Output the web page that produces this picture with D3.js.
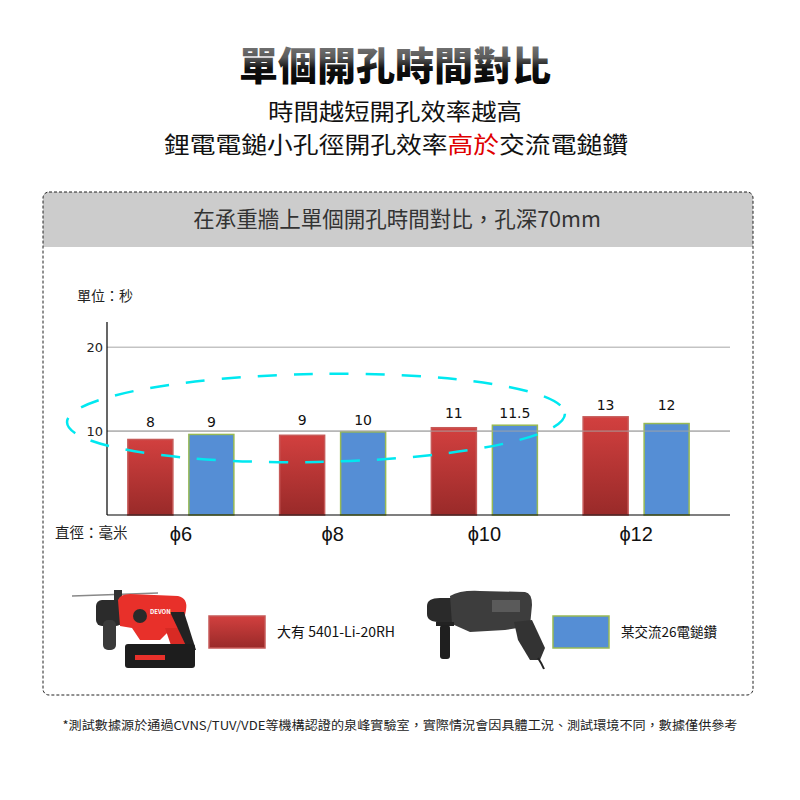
<!DOCTYPE html>
<html>
<head>
<meta charset="utf-8">
<script src="https://cdn.jsdelivr.net/npm/d3@7"></script>
<style>
  body { margin: 0; background: #fff; }
  svg { display: block; font-family: "Noto Sans CJK TC", "Noto Sans", sans-serif; }
</style>
</head>
<body>
<div id="chart"></div>
<script>
// data
const sizes = ["ϕ6", "ϕ8", "ϕ10", "ϕ12"];
const seriesNames = ["大有 5401-Li-20RH", "某交流26電鎚鑽"];
const cordlessValues = [9.0, 9.5, 10.4, 11.7];   // bar heights as drawn
const cordedValues = [9.6, 9.9, 10.7, 10.9];
const cordlessLabels = ["8", "9", "11", "13"];    // printed labels
const cordedLabels = ["9", "10", "11.5", "12"];
const yTicks = [10, 20];

const W = 800, H = 800;
const svg = d3.select("#chart").append("svg").attr("width", W).attr("height", H);
const defs = svg.append("defs");

// gradients
const tg = defs.append("linearGradient").attr("id", "titleGrad")
  .attr("x1", 0).attr("y1", 0).attr("x2", 0).attr("y2", 1);
tg.append("stop").attr("offset", "0%").attr("stop-color", "#8c8c8c");
tg.append("stop").attr("offset", "40%").attr("stop-color", "#5a5a5a");
tg.append("stop").attr("offset", "60%").attr("stop-color", "#111");
tg.append("stop").attr("offset", "100%").attr("stop-color", "#000");

const rg = defs.append("linearGradient").attr("id", "redGrad")
  .attr("x1", 0).attr("y1", 0).attr("x2", 0).attr("y2", 1);
rg.append("stop").attr("offset", "0%").attr("stop-color", "#d2403f");
rg.append("stop").attr("offset", "100%").attr("stop-color", "#992a29");

// headings
svg.append("text").attr("x", 395).attr("y", 80).attr("text-anchor", "middle")
  .attr("font-size", 39).attr("font-weight", 900).attr("fill", "url(#titleGrad)")
  .text("單個開孔時間對比");
svg.append("text").attr("x", 395).attr("y", 120).attr("text-anchor", "middle")
  .attr("font-size", 22.5).attr("fill", "#111")
  .attr("textLength", 254).attr("lengthAdjust", "spacingAndGlyphs")
  .text("時間越短開孔效率越高");
const sub = svg.append("text").attr("x", 396).attr("y", 153).attr("text-anchor", "middle")
  .attr("font-size", 22.5).attr("fill", "#111")
  .attr("textLength", 464).attr("lengthAdjust", "spacingAndGlyphs");
sub.append("tspan").text("鋰電電鎚小孔徑開孔效率");
sub.append("tspan").attr("fill", "#e00000").text("高於");
sub.append("tspan").text("交流電鎚鑽");

// panel
svg.append("path")
  .attr("d", "M43,247 V198 Q43,192 49,192 H747 Q753,192 753,198 V247 Z")
  .attr("fill", "#cccccc");
svg.append("rect").attr("x", 43).attr("y", 192).attr("width", 710).attr("height", 503)
  .attr("rx", 6).attr("fill", "none").attr("stroke", "#222").attr("stroke-width", 1)
  .attr("stroke-dasharray", "3,2");
svg.append("text").attr("x", 397).attr("y", 227).attr("text-anchor", "middle")
  .attr("font-size", 21.5).attr("fill", "#333").text("在承重牆上單個開孔時間對比，孔深70mm");

svg.append("text").attr("x", 77).attr("y", 301).attr("font-size", 14).attr("fill", "#222")
  .text("單位：秒");
svg.append("text").attr("x", 55).attr("y", 538).attr("font-size", 14.5).attr("fill", "#222")
  .text("直徑：毫米");

// scales
const x0 = d3.scaleBand().domain(sizes).range([105, 712]).padding(0);
const x1 = d3.scaleBand().domain([0, 1]).range([0, x0.bandwidth()])
  .paddingInner(0.262).paddingOuter(0.375);
const y = d3.scaleLinear().domain([0, 23]).range([515, 322]);

const rows = sizes.map((s, i) => ({
  size: s,
  bars: [
    { k: 0, v: cordlessValues[i], label: cordlessLabels[i] },
    { k: 1, v: cordedValues[i], label: cordedLabels[i] }
  ]
}));

// grid
svg.append("g").selectAll("line").data(yTicks).join("line")
  .attr("x1", 107).attr("x2", 730).attr("y1", d => y(d)).attr("y2", d => y(d))
  .attr("stroke", "#a6a6a6").attr("stroke-width", 1);
svg.append("g").selectAll("text").data(yTicks).join("text")
  .attr("x", 103).attr("y", d => y(d) + 5).attr("text-anchor", "end")
  .attr("font-size", 13).attr("fill", "#222").attr("font-family", "DejaVu Sans, sans-serif")
  .text(d => d);

// bars
const groups = svg.append("g").selectAll("g").data(rows).join("g")
  .attr("transform", d => `translate(${x0(d.size)},0)`);
groups.selectAll("rect").data(d => d.bars).join("rect")
  .attr("x", d => x1(d.k)).attr("width", x1.bandwidth())
  .attr("y", d => y(d.v)).attr("height", d => y(0) - y(d.v))
  .attr("fill", d => d.k === 0 ? "url(#redGrad)" : "#558ed5")
  .attr("stroke", d => d.k === 0 ? "#c65a58" : "#98b954").attr("stroke-width", 1.5);

// the 10 gridline shows across the bars in the picture
svg.append("line").attr("x1", 107).attr("x2", 730).attr("y1", y(10)).attr("y2", y(10))
  .attr("stroke", "#a6a6a6").attr("stroke-width", 1).attr("opacity", 0.9);

groups.selectAll("text.val").data(d => {
  const top = y(d3.max(d.bars, b => b.v));
  return d.bars.map(b => ({ ...b, ty: top - 7 }));
}).join("text").attr("class", "val")
  .attr("x", d => x1(d.k) + x1.bandwidth() / 2).attr("y", d => d.ty)
  .attr("text-anchor", "middle").attr("font-size", 14).attr("fill", "#111")
  .attr("font-family", "DejaVu Sans, sans-serif")
  .text(d => d.label);

// axes lines
svg.append("line").attr("x1", 107).attr("x2", 107).attr("y1", 322).attr("y2", 515)
  .attr("stroke", "#000").attr("stroke-width", 1.2);
svg.append("line").attr("x1", 107).attr("x2", 730).attr("y1", 515).attr("y2", 515)
  .attr("stroke", "#000").attr("stroke-width", 1.2);

svg.append("g").selectAll("text").data(sizes).join("text")
  .attr("x", d => x0(d) + x0.bandwidth() / 2).attr("y", 541)
  .attr("text-anchor", "middle").attr("font-size", 20).attr("fill", "#111")
  .attr("font-family", "Liberation Sans, sans-serif")
  .text(d => d);

// cyan dashed ellipse highlight
svg.append("ellipse").attr("cx", 316).attr("cy", 418).attr("rx", 249).attr("ry", 44)
  .attr("transform", "rotate(-1,316,418)")
  .attr("fill", "none").attr("stroke", "#00e8f0").attr("stroke-width", 2.5)
  .attr("stroke-dasharray", "19,17");

// legend
const legend = [
  { name: seriesNames[0], x: 209, fill: "url(#redGrad)", stroke: "#c65a58", fs: 14 },
  { name: seriesNames[1], x: 553, fill: "#558ed5", stroke: "#98b954", fs: 13.5 }
];
const lg = svg.append("g").selectAll("g").data(legend).join("g");
lg.append("rect").attr("x", d => d.x).attr("y", 616).attr("width", 56).attr("height", 32)
  .attr("fill", d => d.fill).attr("stroke", d => d.stroke).attr("stroke-width", 1.5);
lg.append("text").attr("x", d => d.x + 68).attr("y", 637).attr("font-size", d => d.fs)
  .attr("fill", "#111").text(d => d.name);

// cordless hammer (red)
const rd = svg.append("g");
rd.append("line").attr("x1", 72).attr("y1", 596).attr("x2", 158).attr("y2", 593)
  .attr("stroke", "#888").attr("stroke-width", 1.5);
rd.append("rect").attr("x", 114).attr("y", 590).attr("width", 8).attr("height", 16).attr("fill", "#333");
rd.append("rect").attr("x", 96).attr("y", 600).attr("width", 26).attr("height", 26).attr("rx", 6).attr("fill", "#2b2b2b");
rd.append("rect").attr("x", 103).attr("y", 620).attr("width", 13).attr("height", 30).attr("rx", 5).attr("fill", "#3a3a3a");
rd.append("path").attr("d", "M118,600 Q120,594 130,594 L178,596 Q188,598 186,610 L182,630 L170,630 L160,640 L140,640 L132,628 L120,626 Z")
  .attr("fill", "#e8302a");
rd.append("path").attr("d", "M165,628 L180,628 L195,655 L190,660 L176,660 Z").attr("fill", "#d82a24");
rd.append("path").attr("d", "M170,612 L184,612 L196,650 L188,650 Z").attr("fill", "#222");
rd.append("rect").attr("x", 125).attr("y", 644).attr("width", 70).attr("height", 24).attr("rx", 3).attr("fill", "#1d1d1d");
rd.append("rect").attr("x", 135).attr("y", 655).attr("width", 30).attr("height", 5).attr("fill", "#e8302a");
rd.append("circle").attr("cx", 140).attr("cy", 616).attr("r", 7).attr("fill", "#2a2a2a");
rd.append("text").attr("x", 150).attr("y", 614).attr("font-size", 6).attr("font-weight", 700)
  .attr("fill", "#fff").text("DEVON");

// corded hammer (grey)
const gd = svg.append("g");
gd.append("path").attr("d", "M427,606 Q427,598 440,598 L452,598 L452,622 L440,622 Q427,622 427,614 Z").attr("fill", "#2a2a2a");
gd.append("path").attr("d", "M450,596 Q460,590 480,591 L525,592 Q532,593 532,605 L530,626 L505,630 L470,632 L452,624 Z")
  .attr("fill", "#3d3d3d");
gd.append("rect").attr("x", 492).attr("y", 600).attr("width", 28).attr("height", 12).attr("fill", "#5a5a5a");
gd.append("path").attr("d", "M514,622 L532,620 L545,648 L540,660 L530,660 L518,640 Z").attr("fill", "#333");
gd.append("path").attr("d", "M538,658 Q542,664 544,669").attr("fill", "none").attr("stroke", "#222").attr("stroke-width", 2);
gd.append("rect").attr("x", 436).attr("y", 622).attr("width", 18).attr("height", 4).attr("fill", "#222");
gd.append("rect").attr("x", 440).attr("y", 625).attr("width", 10).attr("height", 34).attr("rx", 3).attr("fill", "#1f1f1f");

// footnote
svg.append("text").attr("x", 400).attr("y", 730).attr("text-anchor", "middle")
  .attr("font-size", 12).attr("fill", "#222")
  .attr("textLength", 675).attr("lengthAdjust", "spacingAndGlyphs")
  .text("*測試數據源於通過CVNS/TUV/VDE等機構認證的泉峰實驗室，實際情況會因具體工況、測試環境不同，數據僅供參考");
</script>
</body>
</html>
